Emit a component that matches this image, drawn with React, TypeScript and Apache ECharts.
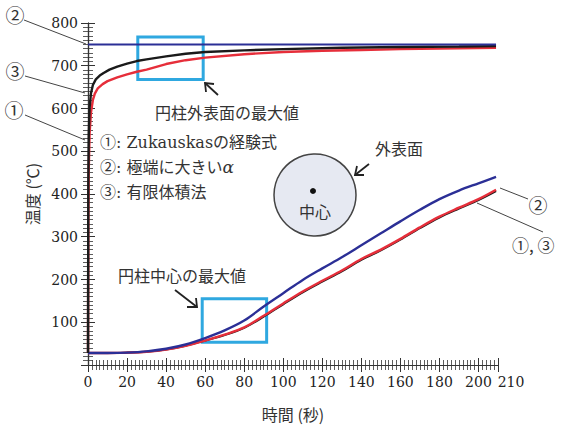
import React, { useEffect, useRef } from "react";
import * as echarts from "echarts";

// time (s) , temperature (°C)
const surfaceBlue: [number, number][] = [[0, 750], [209, 750]];
const surfaceBlack: [number, number][] = [
  [0, 28], [0.15, 420], [0.4, 540], [0.8, 600], [1.5, 635], [2.5, 655], [4, 668], [6, 677], [8, 683],
  [11, 691], [15, 698], [20, 705], [25, 711], [30, 715], [40, 722], [50, 728], [60, 732], [80, 736],
  [100, 739], [130, 742], [160, 744], [190, 745], [209, 746],
];
const surfaceRed: [number, number][] = [
  [0, 28], [0.15, 330], [0.4, 460], [0.8, 540], [1.5, 590], [2.5, 620], [3.5, 635], [5, 647], [7.5, 657],
  [10, 664], [15, 673], [20, 680], [25, 686], [30, 691], [40, 704], [50, 713], [60, 719], [80, 727],
  [100, 732], [120, 735], [140, 737], [160, 739], [180, 740], [209, 742],
];
const centerBlue: [number, number][] = [
  [0, 28], [10, 28], [20, 29], [30, 32], [40, 38], [50, 48], [60, 63], [70, 81], [80, 104], [90, 137],
  [100, 168], [110, 199], [120, 226], [130, 252], [140, 280], [150, 308], [160, 336], [170, 363],
  [180, 388], [190, 408], [200, 425], [209, 440],
];
const centerRed: [number, number][] = [
  [0, 28], [10, 28], [20, 29], [30, 31], [40, 36], [50, 45], [60, 57], [70, 71], [80, 88], [90, 115],
  [100, 144], [110, 172], [120, 197], [130, 221], [140, 248], [150, 270], [160, 295], [170, 322],
  [180, 347], [190, 368], [200, 388], [209, 410],
];
const centerBlack: [number, number][] = [
  [0, 28], [10, 28], [20, 29], [30, 31], [40, 36], [50, 45], [60, 57], [70, 70], [80, 87], [90, 113],
  [100, 142], [110, 170], [120, 195], [130, 219], [140, 246], [150, 268], [160, 293], [170, 320],
  [180, 345], [190, 366], [200, 386], [209, 407],
];
// highlight boxes: [t0, T0, t1, T1]
const outerMaxBox = [25.5, 767, 59, 668];
const centerMaxBox = [58.5, 155, 91.5, 53];

const xTickLabels = { min: 0, max: 210, interval: 20 };
const yTickLabels = { min: 0, max: 800, interval: 100 };

const SERIF = "'DejaVu Serif', 'Noto Sans CJK JP', serif";
const JP = "'Noto Sans CJK JP', sans-serif";
const MIX = "'DejaVu Serif', 'Noto Sans CJK JP', sans-serif";
const CYAN = "#2fa8e0";
const BLUE = "#2b2f96";
const RED = "#e62e3a";
const BLACK = "#1a1a1a";
const AX = "#333";

function lineSeries(name: string, data: [number, number][], color: string, width: number, z: number, extra: any = {}) {
  return {
    name,
    type: "line",
    data,
    showSymbol: false,
    symbol: "none",
    smooth: false,
    lineStyle: { color, width },
    z,
    ...extra,
  };
}

export default function App() {
  const ref = useRef<HTMLDivElement>(null);
  useEffect(() => {
    if (!ref.current) return;
    const chart = echarts.init(ref.current, undefined, { renderer: "svg" });
    const tickCommon = {
      axisLine: { show: true, lineStyle: { color: AX, width: 1.2 } },
      axisTick: { show: true, inside: true, length: 7, lineStyle: { color: AX, width: 1 } },
      minorTick: { show: true, splitNumber: 10, length: 5, lineStyle: { color: AX, width: 0.8 } },
      splitLine: { show: false },
    };
    const lineTxt = (x1: number, y1: number, x2: number, y2: number) => ({
      type: "line",
      shape: { x1, y1, x2, y2 },
      style: { stroke: "#444", lineWidth: 1 },
      z: 100,
    });
    const arrow = (tail: [number, number], tip: [number, number], w1: [number, number], w2: [number, number]) => [
      { type: "line", shape: { x1: tail[0], y1: tail[1], x2: tip[0], y2: tip[1] }, style: { stroke: "#222", lineWidth: 1.8 }, z: 100 },
      { type: "polyline", shape: { points: [w1, tip, w2] }, style: { stroke: "#222", lineWidth: 1.8, fill: null }, z: 100 },
    ];
    const txt = (x: number, y: number, text: string, size = 16, extra: any = {}) => ({
      type: "text",
      x,
      y,
      z: 100,
      style: { text, fontSize: size, fontFamily: MIX, fill: "#333", verticalAlign: "middle", align: "left", ...extra },
    });

    const option: any = {
      animation: false,
      grid: { left: 88, right: 68, top: 23, bottom: 57, containLabel: false },
      xAxis: [
        {
          type: "value",
          position: "bottom",
          ...xTickLabels,
          ...tickCommon,
          axisLabel: {
            margin: 10,
            fontFamily: SERIF,
            fontSize: 14,
            color: "#222",
            showMinLabel: true,
            showMaxLabel: true,
            formatter: (v: number) => (v === xTickLabels.max ? "{r|" + v + "}" : String(v)),
            rich: { r: { fontFamily: SERIF, fontSize: 14, color: "#222", padding: [0, 0, 0, 26] } },
          },
          name: "時間 (秒)",
          nameLocation: "middle",
          nameGap: 41,
          nameTextStyle: { fontFamily: JP, fontSize: 16, color: "#333" },
        },
        {
          type: "value",
          position: "top",
          ...xTickLabels,
          ...tickCommon,
          axisLabel: { show: false },
        },
      ],
      yAxis: [
        {
          type: "value",
          position: "left",
          ...yTickLabels,
          ...tickCommon,
          axisLabel: {
            margin: 10,
            fontFamily: SERIF,
            fontSize: 14,
            color: "#222",
            formatter: (v: number) => (v === 0 ? "" : String(v)),
          },
          name: "温度 (℃)",
          nameLocation: "middle",
          nameGap: 48,
          nameRotate: 90,
          nameTextStyle: { fontFamily: JP, fontSize: 16, color: "#333" },
        },
        {
          type: "value",
          position: "right",
          ...yTickLabels,
          ...tickCommon,
          axisLabel: { show: false },
        },
      ],
      series: [
        lineSeries("③ center", centerBlack, BLACK, 2, 2, { smooth: 0.35 }),
        lineSeries("① center", centerRed, RED, 2.4, 3, { smooth: 0.35 }),
        lineSeries("② center", centerBlue, BLUE, 2.4, 4, { smooth: 0.35 }),
        lineSeries("① surface", surfaceRed, RED, 2.4, 3),
        lineSeries("③ surface", surfaceBlack, BLACK, 2.4, 4),
        lineSeries("② surface", surfaceBlue, BLUE, 2, 5, {
          markArea: {
            silent: true,
            itemStyle: { color: "rgba(0,0,0,0)", borderColor: CYAN, borderWidth: 3 },
            data: [
              [{ coord: [outerMaxBox[0], outerMaxBox[1]] }, { coord: [outerMaxBox[2], outerMaxBox[3]] }],
              [{ coord: [centerMaxBox[0], centerMaxBox[1]] }, { coord: [centerMaxBox[2], centerMaxBox[3]] }],
            ],
          },
        }),
      ],
      graphic: [
        // left leader labels
        txt(15, 14, "②", 19, { align: "center", fontFamily: JP }),
        txt(15, 70, "③", 19, { align: "center", fontFamily: JP }),
        txt(14, 109, "①", 19, { align: "center", fontFamily: JP }),
        lineTxt(24, 20, 86, 44),
        lineTxt(25, 76, 85, 93),
        lineTxt(25, 115, 85, 140),
        // right leader labels
        txt(538, 204, "②", 19, { align: "center", fontFamily: JP }),
        lineTxt(500, 188, 528, 199),
        txt(512, 244, "①, ③", 17, { fontFamily: JP }),
        lineTxt(477, 203, 543, 232),
        // annotations
        txt(155, 112, "円柱外表面の最大値", 16, { fontFamily: JP }),
        ...arrow([218, 95], [205, 83], [206, 92], [214, 84]),
        txt(100, 142, "①: Zukauskasの経験式", 16),
        {
          type: "text",
          x: 100,
          y: 167,
          z: 100,
          style: {
            text: "②: 極端に大きい{a|α}",
            fontSize: 16,
            fontFamily: MIX,
            fill: "#333",
            verticalAlign: "middle",
            rich: { a: { fontStyle: "italic", fontFamily: SERIF, fontSize: 17, fill: "#333" } },
          },
        },
        txt(100, 192, "③: 有限体積法", 16),
        txt(375, 148, "外表面", 16, { fontFamily: JP }),
        ...arrow([369, 164], [355, 175], [357, 166], [364, 175]),
        {
          type: "circle",
          shape: { cx: 315, cy: 195, r: 41 },
          style: { fill: "#e6e9f2", stroke: "#444", lineWidth: 1.5 },
          z: 90,
        },
        { type: "circle", shape: { cx: 313, cy: 191, r: 3 }, style: { fill: "#111" }, z: 100 },
        txt(315, 211, "中心", 16, { align: "center", fontFamily: JP }),
        txt(118, 275, "円柱中心の最大値", 16, { fontFamily: JP }),
        ...arrow([175, 290], [197, 307], [187, 307], [196, 298]),
      ],
    };
    chart.setOption(option);
    return () => chart.dispose();
  }, []);
  return <div ref={ref} style={{ width: 566, height: 427, position: "absolute", left: 0, top: 0, background: "#fff" }} />;
}
